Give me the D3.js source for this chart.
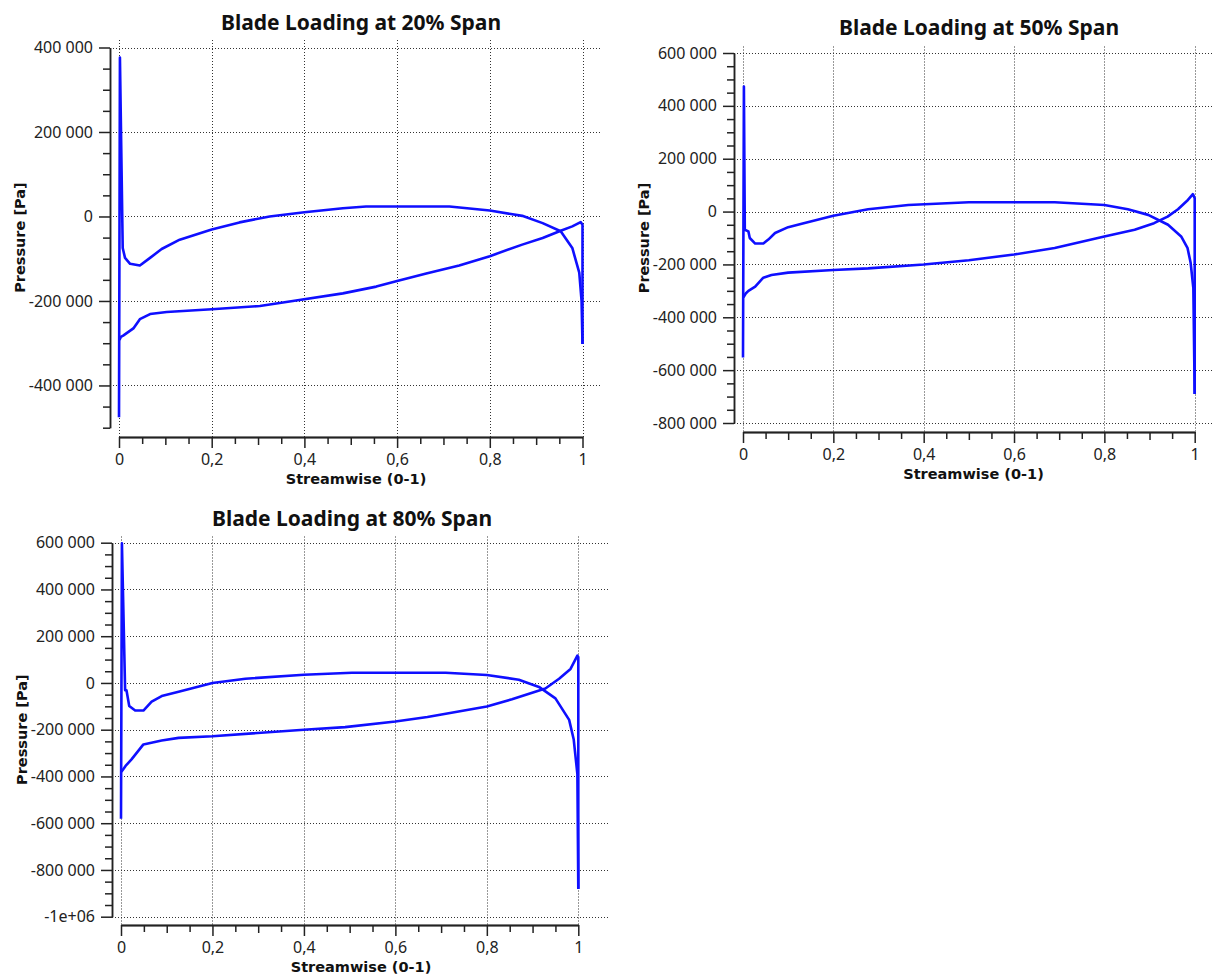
<!DOCTYPE html>
<html>
<head>
<meta charset="utf-8">
<script src="https://cdn.jsdelivr.net/npm/d3@7"></script>
<style>
  body { margin: 0; background: #fff; }
  svg { font-family: "Noto Sans", "DejaVu Sans", sans-serif; }
  .grid line { stroke: #333; stroke-width: 1; stroke-dasharray: 1,2; }
  .axis path, .axis line { stroke: #222; stroke-width: 1.5; }
  .axis text { font-family: "Noto Sans", "DejaVu Sans", sans-serif; font-size: 16px; fill: #222; }
  .title { font-size: 21px; font-weight: bold; fill: #111; text-anchor: middle; }
  .axisText { font-family: "DejaVu Sans", sans-serif; font-size: 14.5px; font-weight: bold; fill: #111; text-anchor: middle; }
  .curve { fill: none; stroke: #0f0fff; stroke-width: 2.6; stroke-linejoin: round; }
</style>
</head>
<body>
<div id="chart"></div>
<script>
// Chart titles
var titles = ["Blade Loading at 20% Span", "Blade Loading at 50% Span", "Blade Loading at 80% Span"];
var xLabel = "Streamwise (0-1)";
var yLabel = "Pressure [Pa]";

// x tick values (major) and y tick values per panel
var xTicks = [0, 0.2, 0.4, 0.6, 0.8, 1];
var yTicks20 = [-400000, -200000, 0, 200000, 400000];
var yTicks50 = [-800000, -600000, -400000, -200000, 0, 200000, 400000, 600000];
var yTicks80 = [-1000000, -800000, -600000, -400000, -200000, 0, 200000, 400000, 600000];

// [streamwise, pressure] — upper branch (starts at leading edge spike)
var upper20 = [[0, -475000], [0.002, 376000], [0.008, -74500], [0.013, -98000], [0.024, -112000],
    [0.045, -116000], [0.067, -98000], [0.092, -77000], [0.131, -55000], [0.2, -31000],
    [0.26, -14000], [0.325, 0], [0.4, 10000], [0.483, 19600], [0.533, 23500], [0.713, 23500],
    [0.8, 14000], [0.87, 1500], [0.914, -15700], [0.953, -35000], [0.978, -74500],
    [0.993, -133000], [0.998, -200000], [1, -302000]];
// lower branch (ends with the trailing edge drop)
var lower20 = [[0.001, -292000], [0.004, -285000], [0.009, -282000], [0.031, -265000],
    [0.045, -243000], [0.067, -231000], [0.103, -226000], [0.2, -219500], [0.304, -212000],
    [0.375, -200000], [0.483, -182000], [0.555, -166000], [0.6, -153000], [0.663, -135000],
    [0.734, -116000], [0.8, -94000], [0.87, -66600], [0.914, -51000], [0.953, -33700],
    [0.978, -23500], [0.996, -13300], [1, -19600], [1, -302000]];

var upper50 = [[0, -552000], [0.002, 473000], [0.004, -69000], [0.012, -75000], [0.015, -100000],
    [0.027, -121000], [0.045, -121000], [0.056, -106000], [0.071, -81000], [0.1, -59000],
    [0.13, -46000], [0.2, -16000], [0.277, 9000], [0.366, 25000], [0.5, 35000], [0.69, 35000],
    [0.8, 25000], [0.852, 9000], [0.897, -12500], [0.941, -50000], [0.97, -94000],
    [0.984, -137000], [0.991, -194000], [0.997, -290000], [1, -690000]];
var lower50 = [[0.001, -325000], [0.006, -310000], [0.012, -300000], [0.027, -284000],
    [0.045, -250000], [0.063, -240000], [0.1, -231000], [0.2, -221000], [0.277, -215000],
    [0.4, -200000], [0.5, -184000], [0.6, -162500], [0.69, -137500], [0.8, -94000],
    [0.867, -69000], [0.91, -44000], [0.94, -19000], [0.963, 9000], [0.985, 44000],
    [0.996, 66000], [1, 50000], [1, -690000]];

var upper80 = [[0, -581000], [0.002, 597000], [0.009, -31000], [0.012, -31000], [0.018, -98500],
    [0.031, -118000], [0.049, -118000], [0.067, -80000], [0.089, -56000], [0.126, -38000],
    [0.2, 0], [0.272, 18000], [0.4, 35000], [0.505, 43600], [0.71, 43600], [0.8, 34000],
    [0.87, 14000], [0.914, -17000], [0.95, -66000], [0.98, -158000], [0.99, -242000],
    [0.998, -390000], [1, -881000]];
var lower80 = [[0.001, -380000], [0.01, -355000], [0.023, -327000], [0.049, -263000],
    [0.089, -246000], [0.126, -235000], [0.2, -228000], [0.4, -200000], [0.49, -189000],
    [0.6, -165000], [0.67, -146000], [0.8, -101000], [0.855, -70000], [0.928, -24000],
    [0.958, 18000], [0.983, 60000], [0.998, 117000], [1, 110000], [1, -881000]];

var svgWidth = 1213;
var svgHeight = 974;

var svg = d3.select("#chart")
    .append("svg")
    .attr("width", svgWidth)
    .attr("height", svgHeight);

// number formats: "400 000", "0,2", "-1e+06"
var locale = d3.formatLocale({ decimal: ",", thousands: " ", grouping: [3], currency: ["", ""], minus: "-" });
var yFmt = locale.format(",d");
var xFmt = locale.format("~g");
function yFormat(v) {
    if (Math.abs(v) >= 1e6) return v.toExponential().replace(/e([+-])(\d)$/, "e$10$2");
    return yFmt(v);
}

var panels = [
    { title: titles[0], upper: upper20, lower: lower20, yTicks: yTicks20, yDomain: [-500000, 400000],
      axisX: 110, xRange: [119, 582.5], yRange: [427.7, 47.5], axisY: 437, gridTop: 40, gridRight: 602,
      titleX: 361, titleY: 30 },
    { title: titles[1], upper: upper50, lower: lower50, yTicks: yTicks50, yDomain: [-800000, 600000],
      axisX: 734, xRange: [743, 1194.7], yRange: [423, 53], axisY: 432, gridTop: 46.5, gridRight: 1213,
      titleX: 979, titleY: 35 },
    { title: titles[2], upper: upper80, lower: lower80, yTicks: yTicks80, yDomain: [-1000000, 600000],
      axisX: 112, xRange: [121, 578.3], yRange: [916.7, 542.7], axisY: 925, gridTop: 536.5, gridRight: 610,
      titleX: 352, titleY: 526 }
];

panels.forEach(function(p) {
    var x = d3.scaleLinear().domain([0, 1]).range(p.xRange);
    var y = d3.scaleLinear().domain(p.yDomain).range(p.yRange);
    var g = svg.append("g");

    // dotted grid
    var grid = g.append("g").attr("class", "grid");
    grid.selectAll(".h").data(p.yTicks).enter().append("line")
        .attr("x1", p.axisX).attr("x2", p.gridRight)
        .attr("y1", d => Math.round(y(d)) + 0.5).attr("y2", d => Math.round(y(d)) + 0.5);
    grid.selectAll(".v").data(xTicks).enter().append("line")
        .attr("x1", d => Math.round(x(d)) + 0.5).attr("x2", d => Math.round(x(d)) + 0.5)
        .attr("y1", p.gridTop).attr("y2", p.axisY);

    // y axis: minor every 50 000, major from the tick list
    var yMinor = d3.range(p.yDomain[0], p.yDomain[1] + 1, 50000).filter(v => p.yTicks.indexOf(v) < 0);
    g.append("g").attr("class", "axis")
        .attr("transform", `translate(${p.axisX},0)`)
        .call(d3.axisLeft(y).tickValues(yMinor).tickFormat("").tickSize(7).tickSizeOuter(0));
    g.append("g").attr("class", "axis")
        .attr("transform", `translate(${p.axisX},0)`)
        .call(d3.axisLeft(y).tickValues(p.yTicks).tickFormat(yFormat).tickSize(11).tickPadding(6).tickSizeOuter(0));

    // x axis: minor every 0.05, medium at 0.1
    var xAll = d3.range(0, 21).map(i => i / 20);
    var xMid = xAll.filter((v, i) => i % 2 === 0 && i % 4 !== 0);
    var xMinor = xAll.filter((v, i) => i % 2 === 1);
    g.append("g").attr("class", "axis")
        .attr("transform", `translate(0,${p.axisY})`)
        .call(d3.axisBottom(x).tickValues(xMinor).tickFormat("").tickSize(7).tickSizeOuter(0));
    g.append("g").attr("class", "axis")
        .attr("transform", `translate(0,${p.axisY})`)
        .call(d3.axisBottom(x).tickValues(xMid).tickFormat("").tickSize(8).tickSizeOuter(0));
    g.append("g").attr("class", "axis")
        .attr("transform", `translate(0,${p.axisY})`)
        .call(d3.axisBottom(x).tickValues(xTicks).tickFormat(xFmt).tickSize(11).tickPadding(5.5).tickSizeOuter(0));

    // curves
    var line = d3.line().x(d => x(d[0])).y(d => y(d[1]));
    g.append("path").attr("class", "curve").attr("d", line(p.upper));
    g.append("path").attr("class", "curve").attr("d", line(p.lower));

    // titles
    g.append("text").attr("class", "title")
        .attr("x", p.titleX).attr("y", p.titleY).text(p.title);
    g.append("text").attr("class", "axisText")
        .attr("x", (p.axisX + p.gridRight) / 2).attr("y", p.axisY + 46.5).text(xLabel);
    g.append("text").attr("class", "axisText")
        .attr("transform", "rotate(-90)")
        .attr("x", -(p.yRange[0] + p.yRange[1]) / 2)
        .attr("y", p.axisX - 90)
        .attr("dy", "0.35em")
        .text(yLabel);
});
</script>
</body>
</html>
